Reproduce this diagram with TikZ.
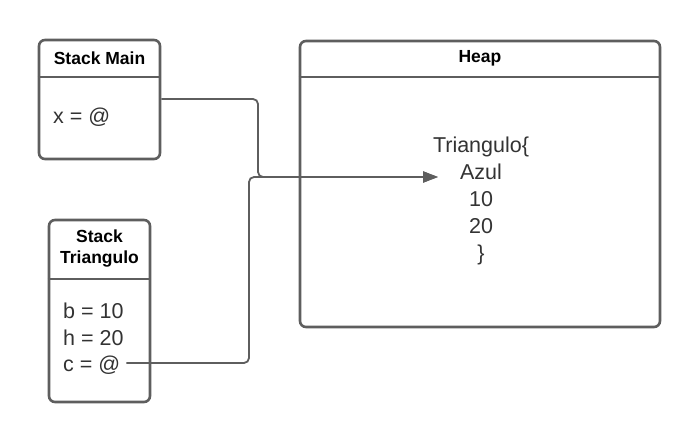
\documentclass[tikz,border=0pt]{standalone}
\usepackage{fontspec}
\setmainfont{Liberation Sans}
\usetikzlibrary{arrows.meta, positioning}
\definecolor{linegray}{RGB}{94,94,94}
\definecolor{textgray}{RGB}{51,51,51}

\begin{document}
\begin{tikzpicture}[
    x=1pt, y=-1pt,
    frame/.style={draw=linegray, line width=2.6pt, rounded corners=6pt, inner sep=0pt},
    sep/.style={draw=linegray, line width=2.6pt},
    title/.style={font=\fontsize{17.5}{21}\selectfont\bfseries, align=center, text=black, inner sep=0pt},
    body/.style={font=\fontsize{21.5}{27}\selectfont, text=textgray, inner sep=0pt},
    wire/.style={draw=linegray, line width=1.8pt, rounded corners=5pt},
    arrow/.style={wire, -{Triangle[length=15pt, width=11pt]}},
]
    \useasboundingbox (0,0) rectangle (700,441);

    \node[frame, minimum width=121pt, minimum height=119pt] (main) at (99.5,99.5) {};
    \draw[sep] (main.west |- 0,77) -- (main.east |- 0,77);
    \node[title] (maintitle) at (99.5,58) {Stack Main};
    \node[body, anchor=base west] (xval) at (53,123.5) {x = @};

    \node[frame, minimum width=101pt, minimum height=182pt] (tri) at (99.5,311) {};
    \draw[sep] (tri.west |- 0,279) -- (tri.east |- 0,279);
    \node[title] (trititle) at (99.5,249) {Stack\\Triangulo};
    \node[body, anchor=base west] (bval) at (63,318.5) {b = 10};
    \node[body, anchor=base west] (hval) at (63,345.5) {h = 20};
    \node[body, anchor=base west] (cval) at (63,371.5) {c = @};

    \node[frame, minimum width=360pt, minimum height=286pt] (heap) at (480,184) {};
    \draw[sep] (heap.west |- 0,77) -- (heap.east |- 0,77);
    \node[title] (heaptitle) at (480,58.5) {Heap};
    \node[body, align=center] (obj) at (481,201) {Triangulo\{\\Azul\\10\\20\\\}};

    \coordinate (mainout) at (main.east |- 0,99);
    \coordinate (cout) at ([xshift=6pt]cval.east |- 0,363);
    \coordinate (drop) at (258,177);
    \coordinate (rise) at (249,177);
    \coordinate (into) at (438,177);

    \draw[arrow] (mainout) -| (drop) -- (into);
    \draw[arrow] (cout) -| (rise) -- (into);
\end{tikzpicture}
\end{document}
